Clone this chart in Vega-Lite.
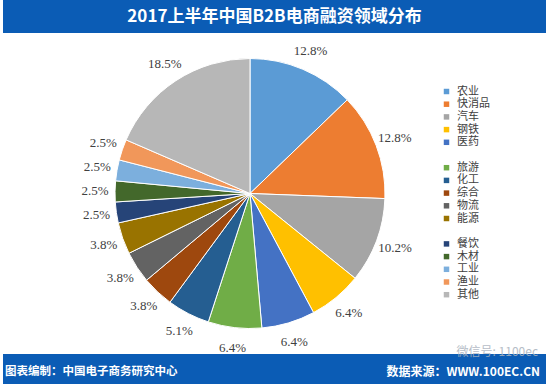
{
  "$schema": "https://vega.github.io/schema/vega-lite/v6.json",
  "padding": {"left": 3, "right": 0, "top": 0, "bottom": 0},
  "spacing": 0,
  "bounds": "flush",
  "background": "white",
  "config": {"view": {"stroke": null}, "font": "Noto Sans CJK SC"},
  "datasets": {
    "share": [
      {"idx": 1, "category": "农业", "value": 0.128},
      {"idx": 2, "category": "快消品", "value": 0.128},
      {"idx": 3, "category": "汽车", "value": 0.102},
      {"idx": 4, "category": "钢铁", "value": 0.064},
      {"idx": 5, "category": "医药", "value": 0.064},
      {"idx": 6, "category": "旅游", "value": 0.064},
      {"idx": 7, "category": "化工", "value": 0.051},
      {"idx": 8, "category": "综合", "value": 0.038},
      {"idx": 9, "category": "物流", "value": 0.038},
      {"idx": 10, "category": "能源", "value": 0.038},
      {"idx": 11, "category": "餐饮", "value": 0.025},
      {"idx": 12, "category": "木材", "value": 0.025},
      {"idx": 13, "category": "工业", "value": 0.025},
      {"idx": 14, "category": "渔业", "value": 0.025},
      {"idx": 15, "category": "其他", "value": 0.185}
    ]
  },
  "vconcat": [
    {
      "width": 543,
      "height": 33,
      "view": {"fill": "#0b5cb5", "stroke": null},
      "data": {"values": [{"t": "2017上半年中国B2B电商融资领域分布"}]},
      "mark": {"type": "text", "color": "white", "fontSize": 17, "fontWeight": "bold", "font": "Noto Sans CJK SC", "baseline": "middle"},
      "encoding": {"text": {"field": "t", "type": "nominal"}}
    },
    {
      "width": 494,
      "height": 321,
      "data": {"name": "share"},
      "encoding": {
        "theta": {"field": "value", "type": "quantitative", "stack": true},
        "order": {"field": "idx", "type": "quantitative"}
      },
      "layer": [
        {
          "mark": {"type": "arc", "outerRadius": 135, "stroke": "white", "strokeWidth": 1},
          "encoding": {
            "color": {
              "field": "category",
              "type": "nominal",
              "scale": {
                "domain": ["农业", "快消品", "汽车", "钢铁", "医药", " ", "旅游", "化工", "综合", "物流", "能源", "  ", "餐饮", "木材", "工业", "渔业", "其他"],
                "range": ["#5B9BD5", "#ED7D31", "#A5A5A5", "#FFC000", "#4472C4", "transparent", "#70AD47", "#255E91", "#9E480E", "#636363", "#997300", "transparent", "#264478", "#43682B", "#7CAFDD", "#F1975A", "#B7B7B7"]
              },
              "legend": {
                "title": null,
                "orient": "none",
                "legendX": 438,
                "legendY": 86,
                "symbolType": "square",
                "symbolSize": 30,
                "symbolStrokeWidth": 0,
                "labelFontSize": 11,
                "labelColor": "#404040",
                "labelFont": "Noto Sans CJK SC",
                "rowPadding": 0.7,
                "labelOffset": 5
              }
            }
          }
        },
        {
          "mark": {"type": "text", "radius": 155, "font": "Liberation Serif", "fontSize": 13, "color": "#404040"},
          "encoding": {
            "detail": {"field": "category", "type": "nominal"},
            "text": {"field": "value", "type": "quantitative", "format": ".1%"}
          }
        }
      ]
    },
    {
      "width": 543,
      "height": 30,
      "view": {"fill": "#0b5cb5", "stroke": null},
      "layer": [
        {
          "data": {"values": [{"t": "图表编制：中国电子商务研究中心"}]},
          "mark": {"type": "text", "align": "left", "color": "white", "fontSize": 11.5, "fontWeight": "bold", "dx": 2, "dy": 3},
          "encoding": {
            "x": {"datum": 0, "type": "quantitative", "scale": {"domain": [0, 1]}, "axis": null},
            "text": {"field": "t", "type": "nominal"}
          }
        },
        {
          "data": {"values": [{"t": "数据来源：WWW.100EC.CN"}]},
          "mark": {"type": "text", "align": "right", "color": "white", "fontSize": 12, "fontWeight": "bold", "dx": -6, "dy": 3},
          "encoding": {
            "x": {"datum": 1, "type": "quantitative", "scale": {"domain": [0, 1]}, "axis": null},
            "text": {"field": "t", "type": "nominal"}
          }
        },
        {
          "data": {"values": [{"t": "微信号: 1100ec"}]},
          "mark": {"type": "text", "align": "right", "color": "#aab3be", "opacity": 0.85, "fontSize": 12, "dx": -8, "dy": -17},
          "encoding": {
            "x": {"datum": 1, "type": "quantitative", "scale": {"domain": [0, 1]}, "axis": null},
            "text": {"field": "t", "type": "nominal"}
          }
        }
      ]
    }
  ]
}
